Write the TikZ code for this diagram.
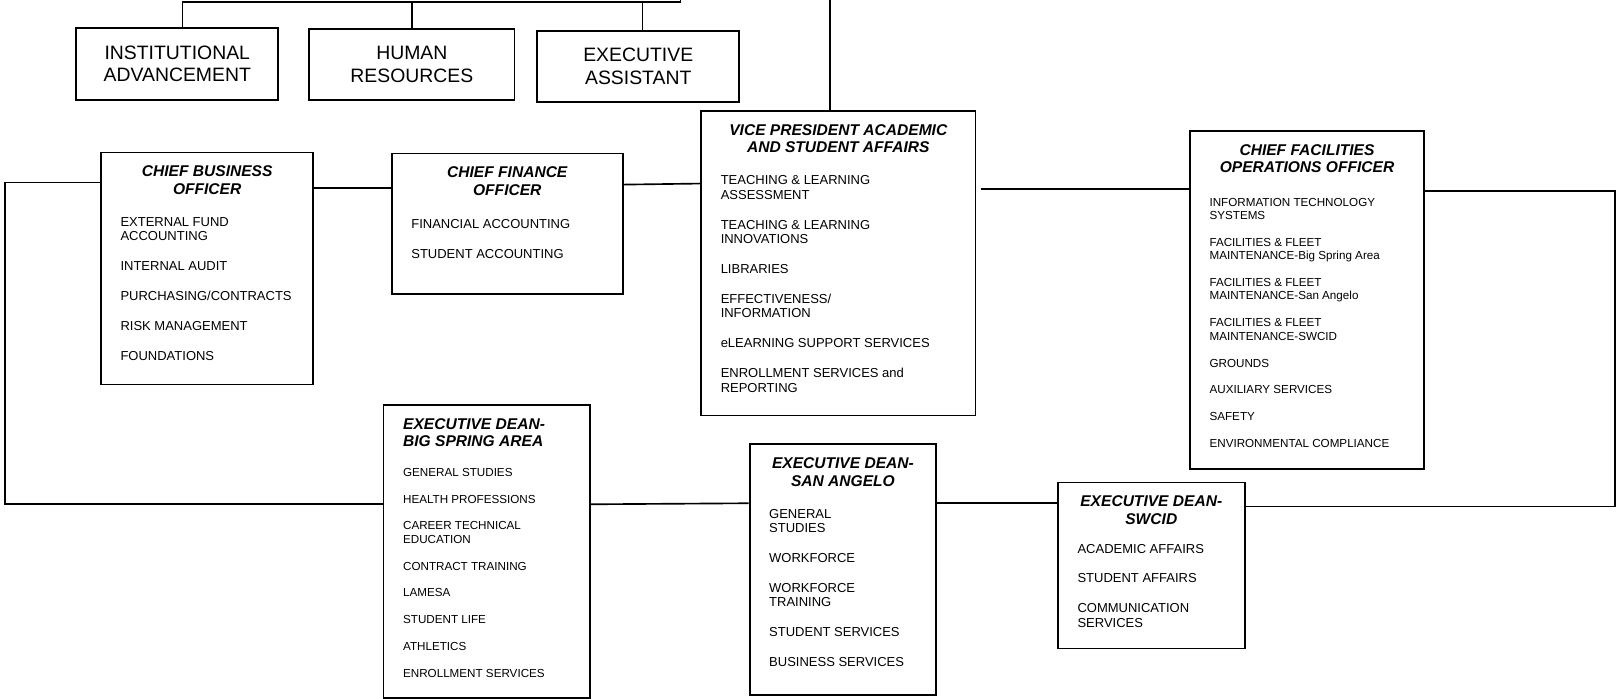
\documentclass[tikz,border=0pt]{standalone}
\usepackage{fontspec}
\setmainfont{Liberation Sans}

\newcommand{\topfont}{\fontsize{18.8}{22}\selectfont}
\newcommand{\titlefont}{\fontsize{15.1}{17}\selectfont\bfseries\itshape}
\newcommand{\itemfont}{\fontsize{12.6}{14}\selectfont}
\newcommand{\smallitemfont}{\fontsize{11.3}{13}\selectfont}
\newcommand{\unitbox}[3]{\parbox[c][#2][t]{#1}{#3}}
\newcommand{\unittitle}[2][\centering]{\vspace*{11.5pt}{#1\titlefont\strut #2\par}}
\newcommand{\unitlist}[3][17pt]{\vspace{#1}{\raggedright\leftskip=19pt\relax #2#3\par}}

\tikzstyle{topbox}=[draw, line width=1.8pt, anchor=north west, align=center, font=\topfont]
\tikzstyle{unit}=[draw, line width=1.8pt, anchor=north west]
\tikzstyle{link}=[draw, line width=1.6pt]

\begin{document}
\begin{tikzpicture}[x=1pt, y=-1pt, inner sep=0pt]
\useasboundingbox (0,0) rectangle (1568,677);

\node[topbox, minimum width=196pt, minimum height=70pt] (inst) at (73,26) {INSTITUTIONAL\\ADVANCEMENT};
\node[topbox, minimum width=199pt, minimum height=69pt] (hr) at (299,27) {HUMAN\\RESOURCES};
\node[topbox, minimum width=196pt, minimum height=69pt] (exa) at (520,29) {EXECUTIVE\\ASSISTANT};

\node[unit] (cbo) at (97,147) {\unitbox{206pt}{225pt}{%
  \unittitle{CHIEF BUSINESS\\OFFICER}%
  \unitlist{\itemfont}{EXTERNAL FUND\\ACCOUNTING\\[15pt]INTERNAL AUDIT\\[15pt]PURCHASING/CONTRACTS\\[15pt]RISK MANAGEMENT\\[15pt]FOUNDATIONS}}};
\node[unit] (cfo) at (379,148) {\unitbox{224pt}{136pt}{%
  \unittitle{CHIEF FINANCE\\OFFICER}%
  \unitlist[18pt]{\itemfont}{FINANCIAL ACCOUNTING\\[15pt]STUDENT ACCOUNTING}}};
\node[unit] (vp) at (679,107) {\unitbox{266pt}{295pt}{%
  \unittitle{VICE PRESIDENT ACADEMIC\\AND STUDENT AFFAIRS}%
  \unitlist{\itemfont}{TEACHING \& LEARNING\\ASSESSMENT\\[15pt]TEACHING \& LEARNING\\INNOVATIONS\\[15pt]LIBRARIES\\[15pt]EFFECTIVENESS/\\INFORMATION\\[15pt]eLEARNING SUPPORT SERVICES\\[15pt]ENROLLMENT SERVICES and\\REPORTING}}};
\node[unit] (cfoo) at (1153,126) {\unitbox{227pt}{328pt}{%
  \unittitle{CHIEF FACILITIES\\OPERATIONS OFFICER}%
  \unitlist[19.6pt]{\smallitemfont}{INFORMATION TECHNOLOGY\\SYSTEMS\\[13pt]FACILITIES \& FLEET\\MAINTENANCE-Big Spring Area\\[13pt]FACILITIES \& FLEET\\MAINTENANCE-San Angelo\\[13pt]FACILITIES \& FLEET\\MAINTENANCE-SWCID\\[13pt]GROUNDS\\[13pt]AUXILIARY SERVICES\\[13pt]SAFETY\\[13pt]ENVIRONMENTAL COMPLIANCE}}};
\node[unit] (bsa) at (371,392) {\unitbox{200pt}{284pt}{%
  \unittitle[\raggedright\leftskip=19pt]{EXECUTIVE DEAN-\\BIG SPRING AREA}%
  \unitlist[15.6pt]{\smallitemfont}{GENERAL STUDIES\\[13pt]HEALTH PROFESSIONS\\[13pt]CAREER TECHNICAL\\EDUCATION\\[13pt]CONTRACT TRAINING\\[13pt]LAMESA\\[13pt]STUDENT LIFE\\[13pt]ATHLETICS\\[13pt]ENROLLMENT SERVICES}}};
\node[unit] (sa) at (726,430) {\unitbox{181pt}{243pt}{%
  \unittitle{EXECUTIVE DEAN-\\SAN ANGELO}%
  \unitlist{\itemfont}{GENERAL\\STUDIES\\[15pt]WORKFORCE\\[15pt]WORKFORCE\\TRAINING\\[15pt]STUDENT SERVICES\\[15pt]BUSINESS SERVICES}}};
\node[unit] (swcid) at (1025,467) {\unitbox{181pt}{161pt}{%
  \unittitle{EXECUTIVE DEAN-\\SWCID}%
  \unitlist[14pt]{\itemfont}{ACADEMIC AFFAIRS\\[15pt]STUDENT AFFAIRS\\[15pt]COMMUNICATION\\SERVICES}}};

\coordinate (bar) at (660,2);
\coordinate (pres) at (660,0);
\coordinate (vptop) at (805,0);
\coordinate (lt) at (5,177);
\coordinate (lb) at (5,489);
\coordinate (rt) at (1566,185);
\coordinate (rb) at (1566,491);

\draw[link] ([xshift=5pt]inst.north) |- (bar) -- (pres);
\draw[link] (hr.north) -- (hr.north |- bar);
\draw[link] ([xshift=4pt]exa.north) -- ([xshift=4pt]exa.north |- bar);
\draw[link] (vptop) -- (vptop |- vp.north);

\draw[link] (bsa.west |- lb) -- (lb) -- (lt) -- (lt -| cbo.west);
\draw[link] ([yshift=-35pt]cbo.north east) -- ([yshift=-34pt]cfo.north west);
\draw[link] ([yshift=-31pt]cfo.north east) -- ([yshift=-71pt]vp.north west);
\draw[link] ([xshift=4pt,yshift=-76pt]vp.north east) -- ([yshift=-57pt]cfoo.north west);
\draw[link] (rt -| cfoo.east) -- (rt) -- (rb) -- (rb -| swcid.east);
\draw[link] ([yshift=-21pt]swcid.north west) -- ([yshift=-58pt]sa.north east);
\draw[link] ([yshift=-58pt]sa.north west) -- ([yshift=-97pt]bsa.north east);
\end{tikzpicture}
\end{document}
